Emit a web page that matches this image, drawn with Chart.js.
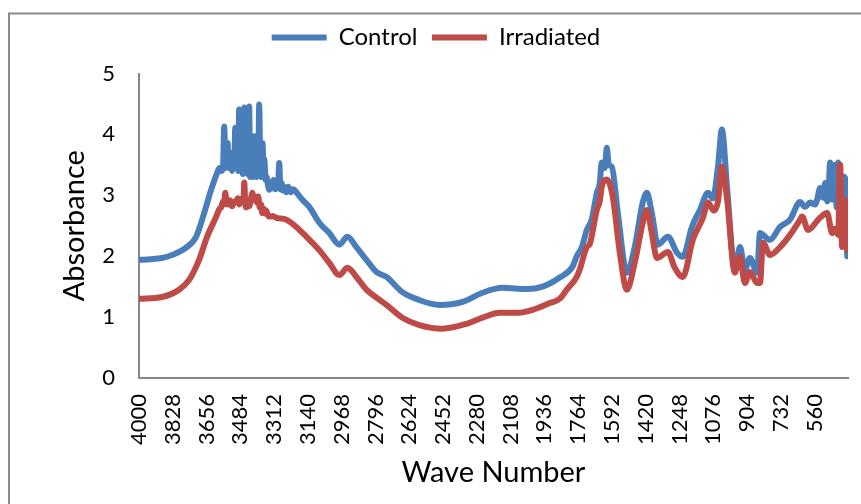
<!DOCTYPE html>
<html>
<head>
<meta charset="utf-8">
<script src="https://cdn.jsdelivr.net/npm/chart.js@4/dist/chart.umd.min.js"></script>
<style>
  html, body { margin: 0; padding: 0; background: #fff; }
  #wrap { width: 861px; height: 504px; }
</style>
</head>
<body>
<div id="wrap"><canvas id="chart" width="861" height="504"></canvas></div>
<script>
// x labels shown on the wave number axis
var tickWaves = [4000, 3828, 3656, 3484, 3312, 3140, 2968, 2796, 2624, 2452, 2280,
  2108, 1936, 1764, 1592, 1420, 1248, 1076, 904, 732, 560];

// Control spectrum (wave number, absorbance)
var controlWave = [4000, 3940, 3883, 3832, 3760, 3709, 3668, 3633, 3602,
  3590, 3580, 3572, 3566, 3560, 3554, 3549, 3543, 3537, 3532, 3526, 3520, 3515, 3510,
  3504, 3498, 3494, 3490, 3485, 3481, 3478, 3472, 3468, 3464, 3459, 3453, 3447, 3443,
  3439, 3434, 3429, 3425, 3420, 3416, 3413, 3408, 3403, 3398, 3393, 3388, 3383, 3378,
  3371, 3366, 3362, 3355, 3350, 3343, 3337, 3330, 3322, 3315, 3306, 3298, 3292, 3286,
  3280, 3274, 3268, 3260, 3250, 3240, 3228, 3215, 3199,
  3169, 3133, 3082, 3031, 2980, 2939, 2893, 2842, 2791, 2740, 2659,
  2572, 2470, 2353, 2251, 2149, 2026, 1945, 1858, 1792, 1771, 1745, 1720, 1695, 1669,
  1654, 1644, 1628, 1618, 1608, 1593, 1562, 1516, 1476, 1435, 1414, 1389, 1358, 1307,
  1261, 1231, 1185, 1144, 1103, 1078, 1052, 1032, 1006, 966, 940, 915, 889, 853, 838,
  823, 787, 736, 685, 634, 608, 583, 557, 547, 532, 517, 506, 496, 488, 481, 471, 463,
  456, 448, 440, 430, 415, 405, 394];
var controlAbs = [1.94, 1.95, 1.97, 2.02, 2.14, 2.32, 2.71, 3.09, 3.37,
  3.45, 3.40, 3.48, 4.13, 3.45, 3.50, 3.86, 3.45, 3.55, 3.70, 3.40, 3.50, 3.45, 4.11,
  3.45, 3.80, 3.40, 4.41, 3.45, 3.50, 3.97, 3.35, 3.45, 4.44, 3.40, 3.97, 3.35, 3.45,
  4.46, 3.30, 3.45, 3.92, 3.30, 3.40, 3.97, 3.35, 3.30, 3.45, 3.35, 4.49, 3.60, 3.30,
  3.86, 3.40, 3.59, 3.25, 3.30, 3.15, 3.09, 3.20, 3.12, 3.25, 3.10, 3.20, 3.15, 3.53,
  3.10, 3.20, 3.08, 3.14, 3.05, 3.14, 3.05, 3.10, 3.05,
  2.93, 2.81, 2.55, 2.38, 2.19, 2.32, 2.15, 1.94, 1.74, 1.66, 1.41,
  1.28, 1.20, 1.25, 1.40, 1.48, 1.46, 1.50, 1.65, 1.83, 2.00, 2.15, 2.43, 2.60, 3.04,
  3.20, 3.54, 3.45, 3.78, 3.50, 3.47, 2.71, 1.73, 2.15, 2.88, 3.04, 2.71, 2.19, 2.32,
  2.06, 1.99, 2.48, 2.76, 3.04, 2.95, 3.47, 4.08, 3.14, 1.78, 2.15, 1.78, 1.97, 1.73, 2.38,
  2.35, 2.27, 2.48, 2.60, 2.89, 2.81, 2.88, 2.85, 2.93, 3.12, 2.96, 3.20, 2.90, 3.15,
  3.54, 2.93, 3.25, 3.50, 2.80, 3.54, 2.60, 3.31, 3.29, 2.00];

// Irradiated spectrum (wave number, absorbance)
var irradWave = [4000, 3883, 3796, 3745, 3694, 3653, 3607,
  3590, 3582, 3572, 3566, 3561, 3554, 3546, 3538, 3526, 3515, 3505, 3497, 3490, 3482,
  3474, 3468, 3464, 3459, 3454, 3447, 3439, 3430, 3423, 3415, 3408, 3400, 3393, 3385,
  3378, 3373, 3365, 3360, 3352, 3345, 3337, 3320, 3301, 3250,
  3199, 3148, 3082, 3031, 2980, 2939, 2893, 2842, 2791, 2740, 2659, 2572, 2455, 2332,
  2251, 2164, 2077, 1996, 1909, 1858, 1822, 1771, 1756, 1720, 1705, 1669, 1654, 1644,
  1618, 1588, 1552, 1516, 1476, 1435, 1414, 1389, 1363, 1307, 1272, 1231, 1180, 1129,
  1103, 1073, 1052, 1032, 1006, 966, 940, 915, 889, 853, 838, 823, 787, 736, 685, 634,
  624, 593, 542, 496, 471, 456, 440, 430, 420, 405, 394];
var irradAbs = [1.30, 1.33, 1.45, 1.61, 1.94, 2.32, 2.65,
  2.78, 2.80, 2.90, 2.85, 3.04, 2.88, 2.85, 2.92, 2.82, 2.90, 2.88, 2.95, 2.85, 2.92,
  2.95, 2.90, 3.21, 2.85, 2.80, 2.88, 2.82, 2.95, 3.04, 2.92, 2.98, 2.88, 2.98, 2.80,
  2.85, 2.71, 2.78, 2.70, 2.75, 2.68, 2.65, 2.66, 2.63, 2.60,
  2.48, 2.32, 2.10, 1.89, 1.69, 1.81, 1.66, 1.45, 1.32, 1.20, 0.99, 0.87, 0.81, 0.89,
  0.99, 1.07, 1.07, 1.12, 1.23, 1.30, 1.45, 1.66, 1.78, 2.15, 2.20, 2.76, 2.90, 3.14,
  3.26, 2.98, 2.06, 1.45, 1.89, 2.55, 2.76, 2.38, 1.97, 2.07, 1.81, 1.66, 2.27, 2.63,
  2.88, 2.75, 2.90, 3.47, 2.95, 1.73, 1.99, 1.56, 1.74, 1.56, 1.56, 2.22, 2.02, 2.15, 2.35, 2.60,
  2.65, 2.43, 2.60, 2.71, 2.38, 2.45, 2.35, 3.50, 2.15, 2.93, 2.10];

function toPoints(xs, ys) {
  return xs.map(function (x, i) { return { x: x, y: ys[i] }; });
}

var FONT = 'Lato, "Open Sans", sans-serif';
var AXIS_GREY = '#878787';

// white background plus the grey chart frame (left and top edges)
var framePlugin = {
  id: 'frame',
  beforeInit: function (chart) {
    // leave a bit more room under the legend, like the original
    var legend = chart.legend;
    if (legend) {
      var fit = legend.fit;
      legend.fit = function () {
        fit.call(this);
        this.height += 14;
      };
    }
  },
  beforeDraw: function (chart) {
    var ctx = chart.ctx;
    ctx.save();
    ctx.fillStyle = '#fff';
    ctx.fillRect(0, 0, chart.width, chart.height);
    ctx.strokeStyle = '#8a8a8a';
    ctx.lineWidth = 2;
    ctx.beginPath();
    ctx.moveTo(9, chart.height);
    ctx.lineTo(9, 13.5);
    ctx.lineTo(chart.width, 13.5);
    ctx.stroke();
    ctx.restore();
  }
};

function lineSet(label, xs, ys, colour, order) {
  return {
    label: label,
    data: toPoints(xs, ys),
    borderColor: colour,
    backgroundColor: colour,
    borderWidth: 6,
    borderCapStyle: 'round',
    borderJoinStyle: 'round',
    pointRadius: 0,
    cubicInterpolationMode: 'monotone',
    order: order
  };
}

var ctx = document.getElementById('chart').getContext('2d');
var chart = new Chart(ctx, {
  type: 'line',
  data: {
    datasets: [
      lineSet('Control', controlWave, controlAbs, '#4a7ebb', 1),
      lineSet('Irradiated', irradWave, irradAbs, '#be4b48', 0)
    ]
  },
  options: {
    responsive: false,
    animation: false,
    devicePixelRatio: 1,
    layout: {
      padding: { left: 24, right: 13, top: 11, bottom: 0 }
    },
    plugins: {
      legend: {
        display: true,
        position: 'top',
        labels: {
          usePointStyle: true,
          pointStyle: 'line',
          pointStyleWidth: 55,
          padding: 14.5,
          color: '#000',
          font: { family: FONT, size: 24 },
          sort: function (a, b) { return a.datasetIndex - b.datasetIndex; }
        }
      },
      tooltip: { enabled: false }
    },
    scales: {
      x: {
        type: 'linear',
        reverse: true,
        min: 390,
        max: 4000,
        afterBuildTicks: function (axis) {
          axis.ticks = tickWaves.map(function (v) { return { value: v }; });
        },
        afterFit: function (axis) { axis.height = 126; },
        grid: { display: false, drawTicks: false },
        border: { display: true, color: AXIS_GREY, width: 2 },
        ticks: {
          autoSkip: false,
          minRotation: 90,
          maxRotation: 90,
          padding: 16,
          color: '#000',
          font: { family: FONT, size: 22 },
          callback: function (v) { return String(v); }
        },
        title: {
          display: true,
          text: 'Wave Number',
          color: '#000',
          font: { family: FONT, size: 29 },
          padding: { top: 0, bottom: 14 }
        }
      },
      y: {
        min: 0,
        max: 5,
        afterFit: function (axis) { axis.width = 139 - 24; },
        grid: { display: false, drawTicks: false },
        border: { display: true, color: AXIS_GREY, width: 2 },
        ticks: {
          stepSize: 1,
          padding: 24,
          color: '#000',
          font: { family: FONT, size: 22 }
        },
        title: {
          display: true,
          text: 'Absorbance',
          color: '#000',
          font: { family: FONT, size: 29 },
          padding: { top: 33, bottom: 0 }
        }
      }
    }
  },
  plugins: [framePlugin]
});
</script>
</body>
</html>
